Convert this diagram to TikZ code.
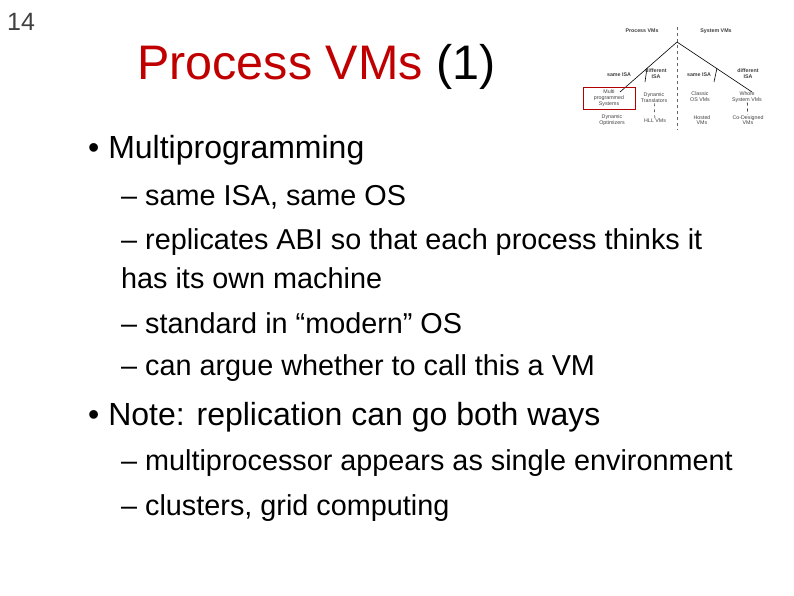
\documentclass[tikz,border=0pt]{standalone}
\usepackage{fontspec}
\setmainfont{Liberation Sans}
\begin{document}
\begin{tikzpicture}[x=1pt,y=-1pt,
 t/.style={anchor=west,inner sep=0pt},
 s/.style={font=\fontsize{5.3}{5.8}\selectfont,align=center,inner sep=0pt,text=black!75},
 sb/.style={s,font=\fontsize{5.3}{5.8}\selectfont\bfseries},
 br/.style={line width=0.6pt}]
\useasboundingbox (0,0) rectangle (794,595);
\node[t,font=\fontsize{25}{27}\selectfont,text=black!75] (pg) at (7,22) {14};
\node[t,font=\fontsize{48.5}{52}\selectfont] (title) at (137,67) {\textcolor[RGB]{192,0,0}{Process VMs} (1)};
\node[t,font=\fontsize{32}{34}\selectfont] (b1) at (88,150) {• Multiprogramming};
\node[t,font=\fontsize{28.8}{31}\selectfont] (s1) at (121,197) {– same ISA, same OS};
\node[t,font=\fontsize{28.8}{31}\selectfont] (s2) at (121,242) {– replicates ABI so that each process thinks it};
\node[t,font=\fontsize{28.8}{31}\selectfont] (s2b) at (121,278) {has its own machine};
\node[t,font=\fontsize{28.8}{31}\selectfont] (s3) at (121,323) {– standard in “modern” OS};
\node[t,font=\fontsize{28.8}{31}\selectfont] (s4) at (121,368) {– can argue whether to call this a VM};
\node[t,font=\fontsize{32}{34}\selectfont] (b2) at (88,417) {• Note: replication can go both ways};
\node[t,font=\fontsize{28.8}{31}\selectfont] (s5) at (121,463) {– multiprocessor appears as single environment};
\node[t,font=\fontsize{28.8}{31}\selectfont] (s6) at (121,508) {– clusters, grid computing};
% mini tree
\draw[dashed,black!60,line width=0.4pt] (677,27) -- (677,130);
\node[sb] (pv) at (642,31) {Process VMs};
\node[sb] (sv) at (716,31) {System VMs};
\coordinate (apex) at (677,42);
\coordinate (lm) at (647,68);
\coordinate (rm) at (717,68);
\draw[br] (apex) -- (620,92);
\draw[br] (apex) -- (752,92);
\draw[br] (lm) -- (645,82);
\draw[br] (rm) -- (714,82);
\node[sb] at (619,75) {same ISA};
\node[sb] at (656,74) {different\\ISA};
\node[sb] at (699,75) {same ISA};
\node[sb] at (748,74) {different\\ISA};
\node[s,draw=red!70!black,line width=0.6pt,minimum width=52pt,minimum height=22pt] (mp) at (609,98) {Multi\\programmed\\Systems};
\node[s] (dt) at (654,98) {Dynamic\\Translators};
\node[s] (co) at (700,97) {Classic\\OS VMs};
\node[s] (ws) at (747,97) {Whole\\System VMs};
\node[s] (do) at (612,120) {Dynamic\\Optimizers};
\node[s] (hl) at (655,121) {HLL VMs};
\node[s] (ho) at (702,120) {Hosted\\VMs};
\node[s] (cd) at (748,120) {Co-Designed\\VMs};
\draw[dashed,line width=0.4pt] (dt) -- (hl);
\draw[dashed,line width=0.6pt] (ws) -- (cd);
\end{tikzpicture}
\end{document}
